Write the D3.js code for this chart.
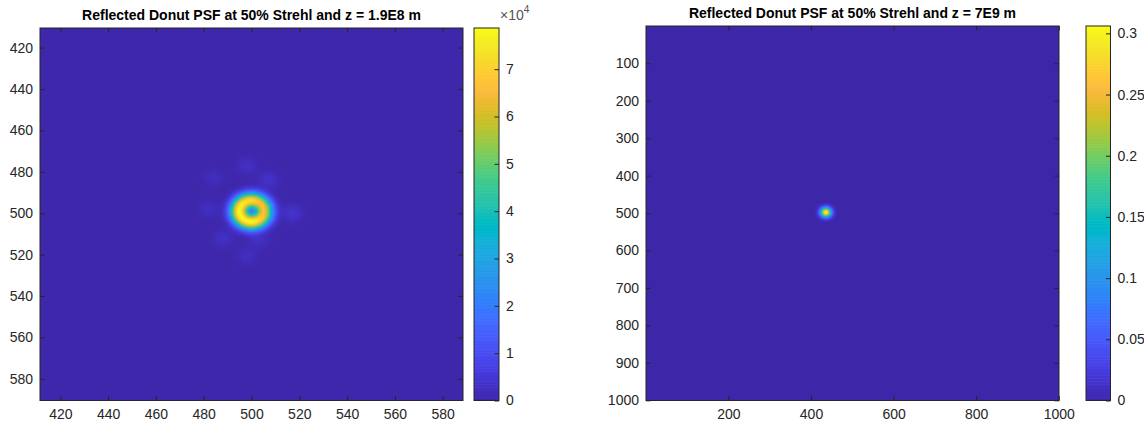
<!DOCTYPE html>
<html><head><meta charset="utf-8">
<script src="https://cdn.jsdelivr.net/npm/d3@7"></script>
<style>
body{margin:0;background:#fff}
text{font-family:"Liberation Sans",Arial,Helvetica,sans-serif}
</style>
</head><body>
<svg id="chart" width="1144" height="427"></svg>
<script>
// ================= DATA =================
const leftTitle = "Reflected Donut PSF at 50% Strehl and z = 1.9E8 m";
const rightTitle = "Reflected Donut PSF at 50% Strehl and z = 7E9 m";

// left image: pixel index range
const leftCols = [412, 588];
const leftRows = [411, 590];
const leftXTicks = [420, 440, 460, 480, 500, 520, 540, 560, 580];
const leftYTicks = [420, 440, 460, 480, 500, 520, 540, 560, 580];
const leftCbarTicks = [0, 1, 2, 3, 4, 5, 6, 7];   // x 10^4
const leftCbarMax = 7.87e4;

// donut
const donutCenter = [500, 499];
const donutRingRadius = 5.1;
const donutRingWidth = 2.7;
const donutPeak = 78700;
const donutCenterFill = 5000;
const ringAngles = [0, 45, 90, 135, 180, 225, 270, 315];          // degrees, image orientation
const ringGain   = [0.84, 0.92, 1.0, 1.0, 1.0, 0.97, 0.93, 0.86];
// faint side lobes around the donut
const lobeX   = [498, 507, 484, 482, 517, 488, 503, 498];
const lobeY   = [477, 484, 483, 498, 500, 512, 513, 521];
const lobeAmp = [2800, 3300, 2300, 2600, 3800, 3000, 2600, 2400];
const lobeWidth = 3.0;
const leftBackground = 200;

// right image
const rightCols = [1, 1000];
const rightRows = [1, 1000];
const rightXTicks = [200, 400, 600, 800, 1000];
const rightYTicks = [100, 200, 300, 400, 500, 600, 700, 800, 900, 1000];
const rightCbarTicks = [0, 0.05, 0.1, 0.15, 0.2, 0.25, 0.3];
const rightCbarMax = 0.306;
const spotCenter = [436, 498];
const spotPeak = 0.306;
const spotWidth = 9;

// parula colormap (MATLAB)
const parula = [
[0.2422,0.1504,0.6603],[0.2504,0.1650,0.7076],[0.2578,0.1818,0.7511],[0.2647,0.1978,0.7952],
[0.2706,0.2147,0.8364],[0.2751,0.2342,0.8710],[0.2783,0.2559,0.8991],[0.2803,0.2782,0.9221],
[0.2813,0.3006,0.9414],[0.2810,0.3228,0.9579],[0.2795,0.3447,0.9717],[0.2760,0.3667,0.9829],
[0.2699,0.3892,0.9906],[0.2602,0.4123,0.9952],[0.2440,0.4358,0.9988],[0.2206,0.4603,0.9973],
[0.1963,0.4847,0.9892],[0.1834,0.5074,0.9798],[0.1786,0.5289,0.9682],[0.1764,0.5499,0.9520],
[0.1687,0.5703,0.9359],[0.1540,0.5902,0.9218],[0.1460,0.6091,0.9079],[0.1380,0.6276,0.8973],
[0.1248,0.6459,0.8883],[0.1113,0.6635,0.8763],[0.0952,0.6798,0.8598],[0.0689,0.6948,0.8394],
[0.0297,0.7082,0.8163],[0.0036,0.7203,0.7917],[0.0067,0.7312,0.7660],[0.0433,0.7411,0.7394],
[0.0964,0.7500,0.7120],[0.1408,0.7584,0.6842],[0.1717,0.7670,0.6554],[0.1938,0.7758,0.6251],
[0.2161,0.7843,0.5923],[0.2470,0.7918,0.5567],[0.2906,0.7973,0.5188],[0.3406,0.8008,0.4789],
[0.3909,0.8029,0.4354],[0.4456,0.8024,0.3909],[0.5044,0.7993,0.3480],[0.5616,0.7942,0.3045],
[0.6174,0.7876,0.2612],[0.6720,0.7793,0.2227],[0.7242,0.7698,0.1910],[0.7738,0.7598,0.1646],
[0.8203,0.7498,0.1535],[0.8634,0.7406,0.1596],[0.9035,0.7330,0.1774],[0.9393,0.7288,0.2100],
[0.9728,0.7298,0.2394],[0.9956,0.7434,0.2371],[0.9970,0.7659,0.2199],[0.9952,0.7893,0.2028],
[0.9892,0.8136,0.1885],[0.9786,0.8386,0.1766],[0.9676,0.8639,0.1643],[0.9610,0.8890,0.1537],
[0.9597,0.9135,0.1423],[0.9628,0.9373,0.1265],[0.9691,0.9606,0.1064],[0.9769,0.9839,0.0805]];

// ================= DRAW =================
const interpParula = d3.piecewise(d3.interpolateRgb,
  parula.map(c => d3.rgb(c[0]*255, c[1]*255, c[2]*255)));

const svg = d3.select("#chart");
const axisColor = "#262626";

function ringGainAt(theta) {
  let deg = (theta * 180 / Math.PI + 360) % 360;
  const i = Math.floor(deg / 45), f = (deg - i * 45) / 45;
  return ringGain[i % 8] * (1 - f) + ringGain[(i + 1) % 8] * f;
}

function leftValue(c, r) {
  const dx = c - donutCenter[0], dy = r - donutCenter[1];
  const rr = Math.hypot(dx, dy);
  const th = Math.atan2(dy, dx);
  let v = leftBackground;
  v += donutPeak * ringGainAt(th) * Math.exp(-((rr - donutRingRadius) ** 2) / (2 * donutRingWidth ** 2));
  v += donutCenterFill * Math.exp(-(rr * rr) / (2 * 1.4 * 1.4));
  for (let k = 0; k < lobeX.length; k++) {
    const d2 = (c - lobeX[k]) ** 2 + (r - lobeY[k]) ** 2;
    v += lobeAmp[k] * Math.exp(-d2 / (2 * lobeWidth ** 2));
  }
  return v;
}
function rightValue(c, r) {
  const d2 = (c - spotCenter[0]) ** 2 + (r - spotCenter[1]) ** 2;
  return spotPeak * Math.exp(-d2 / (2 * spotWidth ** 2));
}

function imagePanel(opt) {
  const { left, right, top, bottom, cols, rows, valueFn, cmax } = opt;
  const x = d3.scaleLinear().domain([cols[0] - 0.5, cols[1] + 0.5]).range([left, right]);
  const y = d3.scaleLinear().domain([rows[0] - 0.5, rows[1] + 0.5]).range([top, bottom]);
  const color = d3.scaleSequential(interpParula).domain([0, cmax]).clamp(true);
  const lut = d3.range(256).map(i => d3.rgb(color(i / 255 * cmax)));
  const toIdx = d3.scaleLinear().domain([0, cmax]).range([0, 255]).clamp(true);

  const nx = cols[1] - cols[0] + 1, ny = rows[1] - rows[0] + 1;
  const cv = document.createElement("canvas");
  cv.width = nx; cv.height = ny;
  const ctx = cv.getContext("2d");
  const img = ctx.createImageData(nx, ny);
  for (let j = 0; j < ny; j++) {
    for (let i = 0; i < nx; i++) {
      const v = valueFn(cols[0] + i, rows[0] + j);
      const c = lut[Math.round(toIdx(v))];
      const p = (j * nx + i) * 4;
      img.data[p] = c.r; img.data[p + 1] = c.g; img.data[p + 2] = c.b; img.data[p + 3] = 255;
    }
  }
  ctx.putImageData(img, 0, 0);

  const g = svg.append("g");
  g.append("image")
    .attr("x", x(cols[0] - 0.5)).attr("y", y(rows[0] - 0.5))
    .attr("width", x(cols[1] + 0.5) - x(cols[0] - 0.5))
    .attr("height", y(rows[1] + 0.5) - y(rows[0] - 0.5))
    .attr("preserveAspectRatio", "none")
    .attr("href", cv.toDataURL());

  const tl = 4.5;
  const fmt = d => String(d);
  const style = sel => {
    sel.select(".domain").remove();
    sel.selectAll("line").attr("stroke", axisColor).attr("stroke-width", 1);
    sel.selectAll("text").attr("fill", axisColor).style("font-size", "14px");
  };
  g.append("g").attr("transform", `translate(0,${bottom})`)
    .call(d3.axisBottom(x).tickValues(opt.xTicks).tickSize(-tl).tickPadding(9).tickFormat(fmt)).call(style);
  g.append("g").attr("transform", `translate(0,${top})`)
    .call(d3.axisTop(x).tickValues(opt.xTicks).tickSize(-tl).tickFormat("")).call(style);
  g.append("g").attr("transform", `translate(${left},0)`)
    .call(d3.axisLeft(y).tickValues(opt.yTicks).tickSize(-tl).tickPadding(7).tickFormat(fmt)).call(style);
  g.append("g").attr("transform", `translate(${right},0)`)
    .call(d3.axisRight(y).tickValues(opt.yTicks).tickSize(-tl).tickFormat("")).call(style);
  g.append("rect").attr("x", left).attr("y", top).attr("width", right - left).attr("height", bottom - top)
    .attr("fill", "none").attr("stroke", axisColor).attr("stroke-width", 1);

  g.append("text").attr("x", (left + right) / 2).attr("y", opt.titleY)
    .attr("text-anchor", "middle").style("font-size", "14px").style("font-weight", "bold")
    .attr("fill", "#000").text(opt.title);

  // colorbar
  const cb = opt.cbar;
  const cy = d3.scaleLinear().domain([0, cmax]).range([bottom, cb.top]);
  const nSteps = 256;
  const steps = d3.range(nSteps).map(i => i / nSteps * cmax);
  g.append("g").selectAll("rect").data(steps).join("rect")
    .attr("x", cb.left).attr("width", cb.right - cb.left)
    .attr("y", d => cy(d + cmax / nSteps) - 0.3)
    .attr("height", d => cy(d) - cy(d + cmax / nSteps) + 0.6)
    .attr("fill", d => color(d + cmax / nSteps / 2));
  const tickVals = cb.ticks.map(t => t * cb.mult);
  g.append("g").attr("transform", `translate(${cb.right},0)`)
    .call(d3.axisRight(cy).tickValues(tickVals).tickSize(-tl).tickPadding(7)
      .tickFormat((d, i) => cb.labels[i])).call(style);
  g.append("rect").attr("x", cb.left).attr("y", cb.top).attr("width", cb.right - cb.left)
    .attr("height", bottom - cb.top).attr("fill", "none").attr("stroke", axisColor).attr("stroke-width", 1);
  return g;
}

const gl = imagePanel({
  left: 40, right: 463, top: 28, bottom: 400.5,
  cols: leftCols, rows: leftRows, valueFn: leftValue, cmax: leftCbarMax,
  xTicks: leftXTicks, yTicks: leftYTicks, title: leftTitle, titleY: 20,
  cbar: { left: 474, right: 499, top: 28, ticks: leftCbarTicks, mult: 1e4,
          labels: leftCbarTicks.map(String) }
});
// x 10^4 exponent label
const ex = gl.append("text").attr("x", 500).attr("y", 20).attr("fill", "#555")
  .style("font-size", "14px");
ex.append("tspan").text("\u00d710");
ex.append("tspan").attr("dy", -7).style("font-size", "10px").text("4");

imagePanel({
  left: 646, right: 1059, top: 26, bottom: 400.5,
  cols: rightCols, rows: rightRows, valueFn: rightValue, cmax: rightCbarMax,
  xTicks: rightXTicks, yTicks: rightYTicks, title: rightTitle, titleY: 18,
  cbar: { left: 1086, right: 1110.5, top: 26, ticks: rightCbarTicks, mult: 1,
          labels: rightCbarTicks.map(String) }
});
</script>
</body></html>
